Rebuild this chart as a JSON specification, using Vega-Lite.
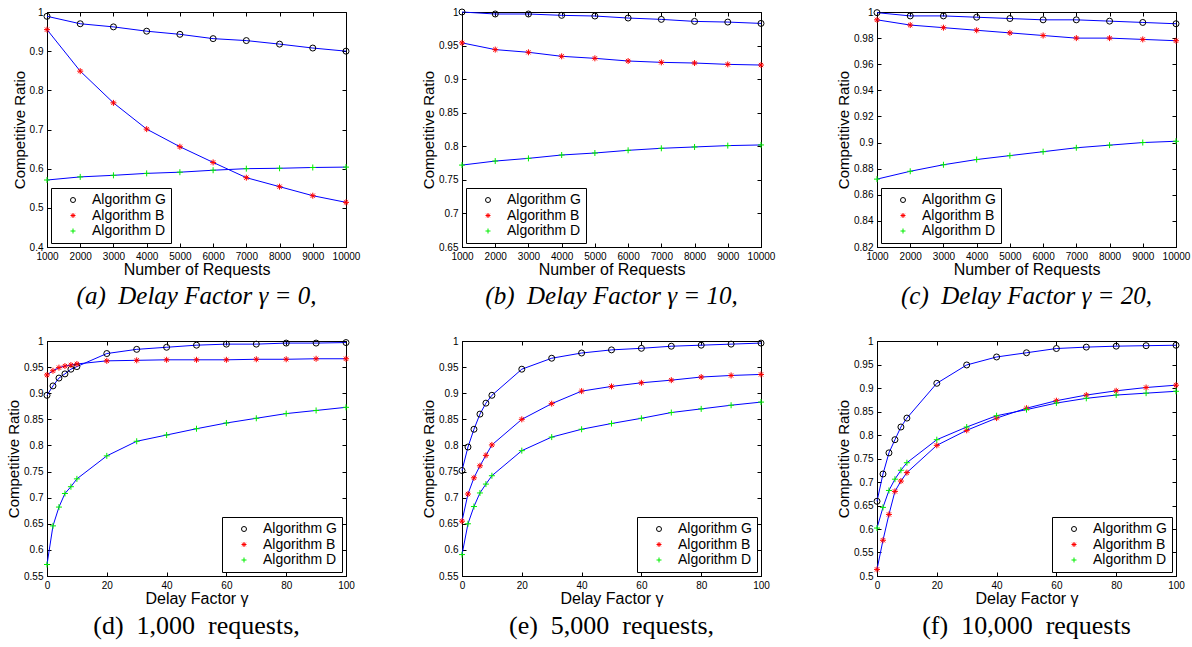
{
  "$schema": "https://vega.github.io/schema/vega-lite/v6.json",
  "background": "white",
  "padding": {"left": 6, "top": 6, "right": 0, "bottom": 0},
  "datasets": {
    "a": [
      {"x":1000,"cr":0.989,"alg":"Algorithm G"},{"x":2000,"cr":0.970,"alg":"Algorithm G"},{"x":3000,"cr":0.962,"alg":"Algorithm G"},{"x":4000,"cr":0.951,"alg":"Algorithm G"},{"x":5000,"cr":0.943,"alg":"Algorithm G"},{"x":6000,"cr":0.932,"alg":"Algorithm G"},{"x":7000,"cr":0.927,"alg":"Algorithm G"},{"x":8000,"cr":0.918,"alg":"Algorithm G"},{"x":9000,"cr":0.908,"alg":"Algorithm G"},{"x":10000,"cr":0.900,"alg":"Algorithm G"},
      {"x":1000,"cr":0.955,"alg":"Algorithm B"},{"x":2000,"cr":0.849,"alg":"Algorithm B"},{"x":3000,"cr":0.768,"alg":"Algorithm B"},{"x":4000,"cr":0.701,"alg":"Algorithm B"},{"x":5000,"cr":0.656,"alg":"Algorithm B"},{"x":6000,"cr":0.616,"alg":"Algorithm B"},{"x":7000,"cr":0.577,"alg":"Algorithm B"},{"x":8000,"cr":0.554,"alg":"Algorithm B"},{"x":9000,"cr":0.531,"alg":"Algorithm B"},{"x":10000,"cr":0.514,"alg":"Algorithm B"},
      {"x":1000,"cr":0.571,"alg":"Algorithm D"},{"x":2000,"cr":0.579,"alg":"Algorithm D"},{"x":3000,"cr":0.583,"alg":"Algorithm D"},{"x":4000,"cr":0.588,"alg":"Algorithm D"},{"x":5000,"cr":0.591,"alg":"Algorithm D"},{"x":6000,"cr":0.596,"alg":"Algorithm D"},{"x":7000,"cr":0.600,"alg":"Algorithm D"},{"x":8000,"cr":0.601,"alg":"Algorithm D"},{"x":9000,"cr":0.603,"alg":"Algorithm D"},{"x":10000,"cr":0.604,"alg":"Algorithm D"}
    ],
    "b": [
      {"x":1000,"cr":1.000,"alg":"Algorithm G"},{"x":2000,"cr":0.997,"alg":"Algorithm G"},{"x":3000,"cr":0.997,"alg":"Algorithm G"},{"x":4000,"cr":0.995,"alg":"Algorithm G"},{"x":5000,"cr":0.994,"alg":"Algorithm G"},{"x":6000,"cr":0.991,"alg":"Algorithm G"},{"x":7000,"cr":0.989,"alg":"Algorithm G"},{"x":8000,"cr":0.986,"alg":"Algorithm G"},{"x":9000,"cr":0.985,"alg":"Algorithm G"},{"x":10000,"cr":0.983,"alg":"Algorithm G"},
      {"x":1000,"cr":0.954,"alg":"Algorithm B"},{"x":2000,"cr":0.944,"alg":"Algorithm B"},{"x":3000,"cr":0.940,"alg":"Algorithm B"},{"x":4000,"cr":0.934,"alg":"Algorithm B"},{"x":5000,"cr":0.931,"alg":"Algorithm B"},{"x":6000,"cr":0.927,"alg":"Algorithm B"},{"x":7000,"cr":0.925,"alg":"Algorithm B"},{"x":8000,"cr":0.924,"alg":"Algorithm B"},{"x":9000,"cr":0.922,"alg":"Algorithm B"},{"x":10000,"cr":0.921,"alg":"Algorithm B"},
      {"x":1000,"cr":0.772,"alg":"Algorithm D"},{"x":2000,"cr":0.778,"alg":"Algorithm D"},{"x":3000,"cr":0.782,"alg":"Algorithm D"},{"x":4000,"cr":0.787,"alg":"Algorithm D"},{"x":5000,"cr":0.790,"alg":"Algorithm D"},{"x":6000,"cr":0.794,"alg":"Algorithm D"},{"x":7000,"cr":0.797,"alg":"Algorithm D"},{"x":8000,"cr":0.799,"alg":"Algorithm D"},{"x":9000,"cr":0.801,"alg":"Algorithm D"},{"x":10000,"cr":0.802,"alg":"Algorithm D"}
    ],
    "c": [
      {"x":1000,"cr":0.9995,"alg":"Algorithm G"},{"x":2000,"cr":0.997,"alg":"Algorithm G"},{"x":3000,"cr":0.997,"alg":"Algorithm G"},{"x":4000,"cr":0.996,"alg":"Algorithm G"},{"x":5000,"cr":0.995,"alg":"Algorithm G"},{"x":6000,"cr":0.994,"alg":"Algorithm G"},{"x":7000,"cr":0.994,"alg":"Algorithm G"},{"x":8000,"cr":0.993,"alg":"Algorithm G"},{"x":9000,"cr":0.992,"alg":"Algorithm G"},{"x":10000,"cr":0.991,"alg":"Algorithm G"},
      {"x":1000,"cr":0.994,"alg":"Algorithm B"},{"x":2000,"cr":0.990,"alg":"Algorithm B"},{"x":3000,"cr":0.988,"alg":"Algorithm B"},{"x":4000,"cr":0.986,"alg":"Algorithm B"},{"x":5000,"cr":0.984,"alg":"Algorithm B"},{"x":6000,"cr":0.982,"alg":"Algorithm B"},{"x":7000,"cr":0.980,"alg":"Algorithm B"},{"x":8000,"cr":0.980,"alg":"Algorithm B"},{"x":9000,"cr":0.979,"alg":"Algorithm B"},{"x":10000,"cr":0.978,"alg":"Algorithm B"},
      {"x":1000,"cr":0.872,"alg":"Algorithm D"},{"x":2000,"cr":0.878,"alg":"Algorithm D"},{"x":3000,"cr":0.883,"alg":"Algorithm D"},{"x":4000,"cr":0.887,"alg":"Algorithm D"},{"x":5000,"cr":0.890,"alg":"Algorithm D"},{"x":6000,"cr":0.893,"alg":"Algorithm D"},{"x":7000,"cr":0.896,"alg":"Algorithm D"},{"x":8000,"cr":0.898,"alg":"Algorithm D"},{"x":9000,"cr":0.900,"alg":"Algorithm D"},{"x":10000,"cr":0.901,"alg":"Algorithm D"}
    ],
    "d": [
      {"x":0,"cr":0.896,"alg":"Algorithm G"},{"x":2,"cr":0.914,"alg":"Algorithm G"},{"x":4,"cr":0.929,"alg":"Algorithm G"},{"x":6,"cr":0.937,"alg":"Algorithm G"},{"x":8,"cr":0.946,"alg":"Algorithm G"},{"x":10,"cr":0.951,"alg":"Algorithm G"},{"x":20,"cr":0.976,"alg":"Algorithm G"},{"x":30,"cr":0.984,"alg":"Algorithm G"},{"x":40,"cr":0.988,"alg":"Algorithm G"},{"x":50,"cr":0.992,"alg":"Algorithm G"},{"x":60,"cr":0.994,"alg":"Algorithm G"},{"x":70,"cr":0.994,"alg":"Algorithm G"},{"x":80,"cr":0.996,"alg":"Algorithm G"},{"x":90,"cr":0.996,"alg":"Algorithm G"},{"x":100,"cr":0.997,"alg":"Algorithm G"},
      {"x":0,"cr":0.935,"alg":"Algorithm B"},{"x":2,"cr":0.943,"alg":"Algorithm B"},{"x":4,"cr":0.949,"alg":"Algorithm B"},{"x":6,"cr":0.952,"alg":"Algorithm B"},{"x":8,"cr":0.954,"alg":"Algorithm B"},{"x":10,"cr":0.956,"alg":"Algorithm B"},{"x":20,"cr":0.962,"alg":"Algorithm B"},{"x":30,"cr":0.963,"alg":"Algorithm B"},{"x":40,"cr":0.964,"alg":"Algorithm B"},{"x":50,"cr":0.964,"alg":"Algorithm B"},{"x":60,"cr":0.964,"alg":"Algorithm B"},{"x":70,"cr":0.965,"alg":"Algorithm B"},{"x":80,"cr":0.965,"alg":"Algorithm B"},{"x":90,"cr":0.966,"alg":"Algorithm B"},{"x":100,"cr":0.966,"alg":"Algorithm B"},
      {"x":0,"cr":0.572,"alg":"Algorithm D"},{"x":2,"cr":0.646,"alg":"Algorithm D"},{"x":4,"cr":0.682,"alg":"Algorithm D"},{"x":6,"cr":0.708,"alg":"Algorithm D"},{"x":8,"cr":0.721,"alg":"Algorithm D"},{"x":10,"cr":0.736,"alg":"Algorithm D"},{"x":20,"cr":0.780,"alg":"Algorithm D"},{"x":30,"cr":0.808,"alg":"Algorithm D"},{"x":40,"cr":0.820,"alg":"Algorithm D"},{"x":50,"cr":0.832,"alg":"Algorithm D"},{"x":60,"cr":0.843,"alg":"Algorithm D"},{"x":70,"cr":0.852,"alg":"Algorithm D"},{"x":80,"cr":0.861,"alg":"Algorithm D"},{"x":90,"cr":0.867,"alg":"Algorithm D"},{"x":100,"cr":0.873,"alg":"Algorithm D"}
    ],
    "e": [
      {"x":0,"cr":0.752,"alg":"Algorithm G"},{"x":2,"cr":0.797,"alg":"Algorithm G"},{"x":4,"cr":0.831,"alg":"Algorithm G"},{"x":6,"cr":0.860,"alg":"Algorithm G"},{"x":8,"cr":0.881,"alg":"Algorithm G"},{"x":10,"cr":0.896,"alg":"Algorithm G"},{"x":20,"cr":0.946,"alg":"Algorithm G"},{"x":30,"cr":0.967,"alg":"Algorithm G"},{"x":40,"cr":0.977,"alg":"Algorithm G"},{"x":50,"cr":0.983,"alg":"Algorithm G"},{"x":60,"cr":0.986,"alg":"Algorithm G"},{"x":70,"cr":0.990,"alg":"Algorithm G"},{"x":80,"cr":0.992,"alg":"Algorithm G"},{"x":90,"cr":0.994,"alg":"Algorithm G"},{"x":100,"cr":0.996,"alg":"Algorithm G"},
      {"x":0,"cr":0.655,"alg":"Algorithm B"},{"x":2,"cr":0.707,"alg":"Algorithm B"},{"x":4,"cr":0.738,"alg":"Algorithm B"},{"x":6,"cr":0.761,"alg":"Algorithm B"},{"x":8,"cr":0.781,"alg":"Algorithm B"},{"x":10,"cr":0.801,"alg":"Algorithm B"},{"x":20,"cr":0.850,"alg":"Algorithm B"},{"x":30,"cr":0.880,"alg":"Algorithm B"},{"x":40,"cr":0.904,"alg":"Algorithm B"},{"x":50,"cr":0.913,"alg":"Algorithm B"},{"x":60,"cr":0.920,"alg":"Algorithm B"},{"x":70,"cr":0.925,"alg":"Algorithm B"},{"x":80,"cr":0.931,"alg":"Algorithm B"},{"x":90,"cr":0.934,"alg":"Algorithm B"},{"x":100,"cr":0.936,"alg":"Algorithm B"},
      {"x":0,"cr":0.591,"alg":"Algorithm D"},{"x":2,"cr":0.650,"alg":"Algorithm D"},{"x":4,"cr":0.683,"alg":"Algorithm D"},{"x":6,"cr":0.709,"alg":"Algorithm D"},{"x":8,"cr":0.726,"alg":"Algorithm D"},{"x":10,"cr":0.742,"alg":"Algorithm D"},{"x":20,"cr":0.790,"alg":"Algorithm D"},{"x":30,"cr":0.816,"alg":"Algorithm D"},{"x":40,"cr":0.831,"alg":"Algorithm D"},{"x":50,"cr":0.842,"alg":"Algorithm D"},{"x":60,"cr":0.852,"alg":"Algorithm D"},{"x":70,"cr":0.863,"alg":"Algorithm D"},{"x":80,"cr":0.870,"alg":"Algorithm D"},{"x":90,"cr":0.877,"alg":"Algorithm D"},{"x":100,"cr":0.883,"alg":"Algorithm D"}
    ],
    "f": [
      {"x":0,"cr":0.659,"alg":"Algorithm G"},{"x":2,"cr":0.717,"alg":"Algorithm G"},{"x":4,"cr":0.762,"alg":"Algorithm G"},{"x":6,"cr":0.790,"alg":"Algorithm G"},{"x":8,"cr":0.817,"alg":"Algorithm G"},{"x":10,"cr":0.836,"alg":"Algorithm G"},{"x":20,"cr":0.910,"alg":"Algorithm G"},{"x":30,"cr":0.949,"alg":"Algorithm G"},{"x":40,"cr":0.966,"alg":"Algorithm G"},{"x":50,"cr":0.975,"alg":"Algorithm G"},{"x":60,"cr":0.984,"alg":"Algorithm G"},{"x":70,"cr":0.987,"alg":"Algorithm G"},{"x":80,"cr":0.989,"alg":"Algorithm G"},{"x":90,"cr":0.990,"alg":"Algorithm G"},{"x":100,"cr":0.991,"alg":"Algorithm G"},
      {"x":0,"cr":0.514,"alg":"Algorithm B"},{"x":2,"cr":0.576,"alg":"Algorithm B"},{"x":4,"cr":0.631,"alg":"Algorithm B"},{"x":6,"cr":0.680,"alg":"Algorithm B"},{"x":8,"cr":0.702,"alg":"Algorithm B"},{"x":10,"cr":0.720,"alg":"Algorithm B"},{"x":20,"cr":0.778,"alg":"Algorithm B"},{"x":30,"cr":0.810,"alg":"Algorithm B"},{"x":40,"cr":0.836,"alg":"Algorithm B"},{"x":50,"cr":0.857,"alg":"Algorithm B"},{"x":60,"cr":0.873,"alg":"Algorithm B"},{"x":70,"cr":0.885,"alg":"Algorithm B"},{"x":80,"cr":0.894,"alg":"Algorithm B"},{"x":90,"cr":0.901,"alg":"Algorithm B"},{"x":100,"cr":0.906,"alg":"Algorithm B"},
      {"x":0,"cr":0.602,"alg":"Algorithm D"},{"x":2,"cr":0.646,"alg":"Algorithm D"},{"x":4,"cr":0.682,"alg":"Algorithm D"},{"x":6,"cr":0.706,"alg":"Algorithm D"},{"x":8,"cr":0.725,"alg":"Algorithm D"},{"x":10,"cr":0.741,"alg":"Algorithm D"},{"x":20,"cr":0.790,"alg":"Algorithm D"},{"x":30,"cr":0.817,"alg":"Algorithm D"},{"x":40,"cr":0.841,"alg":"Algorithm D"},{"x":50,"cr":0.854,"alg":"Algorithm D"},{"x":60,"cr":0.868,"alg":"Algorithm D"},{"x":70,"cr":0.878,"alg":"Algorithm D"},{"x":80,"cr":0.885,"alg":"Algorithm D"},{"x":90,"cr":0.889,"alg":"Algorithm D"},{"x":100,"cr":0.893,"alg":"Algorithm D"}
    ]
  },
  "spacing": 25,
  "vconcat": [
    {
      "bounds": "flush",
      "spacing": 116,
      "resolve": {"scale": {"color": "independent", "shape": "independent"}, "legend": {"color": "independent", "shape": "independent"}},
      "hconcat": [
        {
          "data": {"name": "a"},
          "width": 299, "height": 235,
          "title": {"text": "(a)\u2002Delay Factor γ = 0,", "fontStyle": "italic"},
          "resolve": {"axis": {"x": "independent", "y": "independent"}},
          "layer": [
            {
              "encoding": {
                "x": {"field": "x", "type": "quantitative", "scale": {"domain": [1000, 10000], "nice": false, "zero": false}, "axis": {"values": [1000,2000,3000,4000,5000,6000,7000,8000,9000,10000], "format": "d", "title": "Number of Requests"}},
                "y": {"field": "cr", "type": "quantitative", "scale": {"domain": [0.4, 1], "nice": false, "zero": false}, "axis": {"values": [0.4,0.5,0.6,0.7,0.8,0.9,1], "format": "~g", "title": "Competitive Ratio"}}
              },
              "layer": [
                {"mark": {"type": "line", "color": "#0000ff", "strokeWidth": 1}, "encoding": {"detail": {"field": "alg"}}},
                {"mark": {"type": "point", "filled": false, "strokeWidth": 1, "opacity": 1, "size": 36},
                 "encoding": {
                   "shape": {"field": "alg", "type": "nominal", "scale": {"domain": ["Algorithm G","Algorithm B","Algorithm D"], "range": ["circle", "M-1,0L1,0M0,-1L0,1M-0.7,-0.7L0.7,0.7M-0.7,0.7L0.7,-0.7", "M-1,0L1,0M0,-1L0,1"]}, "legend": {"title": null, "orient": "bottom-left"}},
                   "color": {"field": "alg", "type": "nominal", "scale": {"domain": ["Algorithm G","Algorithm B","Algorithm D"], "range": ["#000000", "#ff0000", "#00ee00"]}, "legend": {"title": null, "orient": "bottom-left"}}
                 }}
              ]
            },
            {
              "mark": {"type": "point", "opacity": 0},
              "encoding": {
                "x": {"field": "x", "type": "quantitative", "scale": {"domain": [1000, 10000], "nice": false, "zero": false}, "axis": {"orient": "top", "values": [1000,2000,3000,4000,5000,6000,7000,8000,9000,10000], "labels": false, "title": null, "domain": false}},
                "y": {"field": "cr", "type": "quantitative", "scale": {"domain": [0.4, 1], "nice": false, "zero": false}, "axis": {"orient": "right", "values": [0.4,0.5,0.6,0.7,0.8,0.9,1], "labels": false, "title": null, "domain": false}}
              }
            }
          ]
        },
        {
          "data": {"name": "b"},
          "width": 299, "height": 235,
          "title": {"text": "(b)\u2002Delay Factor γ = 10,", "fontStyle": "italic"},
          "resolve": {"axis": {"x": "independent", "y": "independent"}},
          "layer": [
            {
              "encoding": {
                "x": {"field": "x", "type": "quantitative", "scale": {"domain": [1000, 10000], "nice": false, "zero": false}, "axis": {"values": [1000,2000,3000,4000,5000,6000,7000,8000,9000,10000], "format": "d", "title": "Number of Requests"}},
                "y": {"field": "cr", "type": "quantitative", "scale": {"domain": [0.65, 1], "nice": false, "zero": false}, "axis": {"values": [0.65,0.7,0.75,0.8,0.85,0.9,0.95,1], "format": "~g", "title": "Competitive Ratio"}}
              },
              "layer": [
                {"mark": {"type": "line", "color": "#0000ff", "strokeWidth": 1}, "encoding": {"detail": {"field": "alg"}}},
                {"mark": {"type": "point", "filled": false, "strokeWidth": 1, "opacity": 1, "size": 36},
                 "encoding": {
                   "shape": {"field": "alg", "type": "nominal", "scale": {"domain": ["Algorithm G","Algorithm B","Algorithm D"], "range": ["circle", "M-1,0L1,0M0,-1L0,1M-0.7,-0.7L0.7,0.7M-0.7,0.7L0.7,-0.7", "M-1,0L1,0M0,-1L0,1"]}, "legend": {"title": null, "orient": "bottom-left"}},
                   "color": {"field": "alg", "type": "nominal", "scale": {"domain": ["Algorithm G","Algorithm B","Algorithm D"], "range": ["#000000", "#ff0000", "#00ee00"]}, "legend": {"title": null, "orient": "bottom-left"}}
                 }}
              ]
            },
            {
              "mark": {"type": "point", "opacity": 0},
              "encoding": {
                "x": {"field": "x", "type": "quantitative", "scale": {"domain": [1000, 10000], "nice": false, "zero": false}, "axis": {"orient": "top", "values": [1000,2000,3000,4000,5000,6000,7000,8000,9000,10000], "labels": false, "title": null, "domain": false}},
                "y": {"field": "cr", "type": "quantitative", "scale": {"domain": [0.65, 1], "nice": false, "zero": false}, "axis": {"orient": "right", "values": [0.65,0.7,0.75,0.8,0.85,0.9,0.95,1], "labels": false, "title": null, "domain": false}}
              }
            }
          ]
        },
        {
          "data": {"name": "c"},
          "width": 299, "height": 235,
          "title": {"text": "(c)\u2002Delay Factor γ = 20,", "fontStyle": "italic"},
          "resolve": {"axis": {"x": "independent", "y": "independent"}},
          "layer": [
            {
              "encoding": {
                "x": {"field": "x", "type": "quantitative", "scale": {"domain": [1000, 10000], "nice": false, "zero": false}, "axis": {"values": [1000,2000,3000,4000,5000,6000,7000,8000,9000,10000], "format": "d", "title": "Number of Requests"}},
                "y": {"field": "cr", "type": "quantitative", "scale": {"domain": [0.82, 1], "nice": false, "zero": false}, "axis": {"values": [0.82,0.84,0.86,0.88,0.9,0.92,0.94,0.96,0.98,1], "format": "~g", "title": "Competitive Ratio"}}
              },
              "layer": [
                {"mark": {"type": "line", "color": "#0000ff", "strokeWidth": 1}, "encoding": {"detail": {"field": "alg"}}},
                {"mark": {"type": "point", "filled": false, "strokeWidth": 1, "opacity": 1, "size": 36},
                 "encoding": {
                   "shape": {"field": "alg", "type": "nominal", "scale": {"domain": ["Algorithm G","Algorithm B","Algorithm D"], "range": ["circle", "M-1,0L1,0M0,-1L0,1M-0.7,-0.7L0.7,0.7M-0.7,0.7L0.7,-0.7", "M-1,0L1,0M0,-1L0,1"]}, "legend": {"title": null, "orient": "bottom-left"}},
                   "color": {"field": "alg", "type": "nominal", "scale": {"domain": ["Algorithm G","Algorithm B","Algorithm D"], "range": ["#000000", "#ff0000", "#00ee00"]}, "legend": {"title": null, "orient": "bottom-left"}}
                 }}
              ]
            },
            {
              "mark": {"type": "point", "opacity": 0},
              "encoding": {
                "x": {"field": "x", "type": "quantitative", "scale": {"domain": [1000, 10000], "nice": false, "zero": false}, "axis": {"orient": "top", "values": [1000,2000,3000,4000,5000,6000,7000,8000,9000,10000], "labels": false, "title": null, "domain": false}},
                "y": {"field": "cr", "type": "quantitative", "scale": {"domain": [0.82, 1], "nice": false, "zero": false}, "axis": {"orient": "right", "values": [0.82,0.84,0.86,0.88,0.9,0.92,0.94,0.96,0.98,1], "labels": false, "title": null, "domain": false}}
              }
            }
          ]
        }
      ]
    },
    {
      "bounds": "flush",
      "spacing": 116,
      "resolve": {"scale": {"color": "independent", "shape": "independent"}, "legend": {"color": "independent", "shape": "independent"}},
      "hconcat": [
        {
          "data": {"name": "d"},
          "width": 299, "height": 235,
          "title": {"text": "(d)\u20021,000\u2002requests,", "fontSize": 26},
          "resolve": {"axis": {"x": "independent", "y": "independent"}},
          "layer": [
            {
              "encoding": {
                "x": {"field": "x", "type": "quantitative", "scale": {"domain": [0, 100], "nice": false}, "axis": {"values": [0,20,40,60,80,100], "title": "Delay Factor γ"}},
                "y": {"field": "cr", "type": "quantitative", "scale": {"domain": [0.55, 1], "nice": false, "zero": false}, "axis": {"values": [0.55,0.6,0.65,0.7,0.75,0.8,0.85,0.9,0.95,1], "format": "~g", "title": "Competitive Ratio"}}
              },
              "layer": [
                {"mark": {"type": "line", "color": "#0000ff", "strokeWidth": 1}, "encoding": {"detail": {"field": "alg"}}},
                {"mark": {"type": "point", "filled": false, "strokeWidth": 1, "opacity": 1, "size": 36},
                 "encoding": {
                   "shape": {"field": "alg", "type": "nominal", "scale": {"domain": ["Algorithm G","Algorithm B","Algorithm D"], "range": ["circle", "M-1,0L1,0M0,-1L0,1M-0.7,-0.7L0.7,0.7M-0.7,0.7L0.7,-0.7", "M-1,0L1,0M0,-1L0,1"]}, "legend": {"title": null, "orient": "bottom-right"}},
                   "color": {"field": "alg", "type": "nominal", "scale": {"domain": ["Algorithm G","Algorithm B","Algorithm D"], "range": ["#000000", "#ff0000", "#00ee00"]}, "legend": {"title": null, "orient": "bottom-right"}}
                 }}
              ]
            },
            {
              "mark": {"type": "point", "opacity": 0},
              "encoding": {
                "x": {"field": "x", "type": "quantitative", "scale": {"domain": [0, 100], "nice": false}, "axis": {"orient": "top", "values": [0,20,40,60,80,100], "labels": false, "title": null, "domain": false}},
                "y": {"field": "cr", "type": "quantitative", "scale": {"domain": [0.55, 1], "nice": false, "zero": false}, "axis": {"orient": "right", "values": [0.55,0.6,0.65,0.7,0.75,0.8,0.85,0.9,0.95,1], "labels": false, "title": null, "domain": false}}
              }
            }
          ]
        },
        {
          "data": {"name": "e"},
          "width": 299, "height": 235,
          "title": {"text": "(e)\u20025,000\u2002requests,", "fontSize": 26},
          "resolve": {"axis": {"x": "independent", "y": "independent"}},
          "layer": [
            {
              "encoding": {
                "x": {"field": "x", "type": "quantitative", "scale": {"domain": [0, 100], "nice": false}, "axis": {"values": [0,20,40,60,80,100], "title": "Delay Factor γ"}},
                "y": {"field": "cr", "type": "quantitative", "scale": {"domain": [0.55, 1], "nice": false, "zero": false}, "axis": {"values": [0.55,0.6,0.65,0.7,0.75,0.8,0.85,0.9,0.95,1], "format": "~g", "title": "Competitive Ratio"}}
              },
              "layer": [
                {"mark": {"type": "line", "color": "#0000ff", "strokeWidth": 1}, "encoding": {"detail": {"field": "alg"}}},
                {"mark": {"type": "point", "filled": false, "strokeWidth": 1, "opacity": 1, "size": 36},
                 "encoding": {
                   "shape": {"field": "alg", "type": "nominal", "scale": {"domain": ["Algorithm G","Algorithm B","Algorithm D"], "range": ["circle", "M-1,0L1,0M0,-1L0,1M-0.7,-0.7L0.7,0.7M-0.7,0.7L0.7,-0.7", "M-1,0L1,0M0,-1L0,1"]}, "legend": {"title": null, "orient": "bottom-right"}},
                   "color": {"field": "alg", "type": "nominal", "scale": {"domain": ["Algorithm G","Algorithm B","Algorithm D"], "range": ["#000000", "#ff0000", "#00ee00"]}, "legend": {"title": null, "orient": "bottom-right"}}
                 }}
              ]
            },
            {
              "mark": {"type": "point", "opacity": 0},
              "encoding": {
                "x": {"field": "x", "type": "quantitative", "scale": {"domain": [0, 100], "nice": false}, "axis": {"orient": "top", "values": [0,20,40,60,80,100], "labels": false, "title": null, "domain": false}},
                "y": {"field": "cr", "type": "quantitative", "scale": {"domain": [0.55, 1], "nice": false, "zero": false}, "axis": {"orient": "right", "values": [0.55,0.6,0.65,0.7,0.75,0.8,0.85,0.9,0.95,1], "labels": false, "title": null, "domain": false}}
              }
            }
          ]
        },
        {
          "data": {"name": "f"},
          "width": 299, "height": 235,
          "title": {"text": "(f)\u200210,000\u2002requests", "fontSize": 26},
          "resolve": {"axis": {"x": "independent", "y": "independent"}},
          "layer": [
            {
              "encoding": {
                "x": {"field": "x", "type": "quantitative", "scale": {"domain": [0, 100], "nice": false}, "axis": {"values": [0,20,40,60,80,100], "title": "Delay Factor γ"}},
                "y": {"field": "cr", "type": "quantitative", "scale": {"domain": [0.5, 1], "nice": false, "zero": false}, "axis": {"values": [0.5,0.55,0.6,0.65,0.7,0.75,0.8,0.85,0.9,0.95,1], "format": "~g", "title": "Competitive Ratio"}}
              },
              "layer": [
                {"mark": {"type": "line", "color": "#0000ff", "strokeWidth": 1}, "encoding": {"detail": {"field": "alg"}}},
                {"mark": {"type": "point", "filled": false, "strokeWidth": 1, "opacity": 1, "size": 36},
                 "encoding": {
                   "shape": {"field": "alg", "type": "nominal", "scale": {"domain": ["Algorithm G","Algorithm B","Algorithm D"], "range": ["circle", "M-1,0L1,0M0,-1L0,1M-0.7,-0.7L0.7,0.7M-0.7,0.7L0.7,-0.7", "M-1,0L1,0M0,-1L0,1"]}, "legend": {"title": null, "orient": "bottom-right"}},
                   "color": {"field": "alg", "type": "nominal", "scale": {"domain": ["Algorithm G","Algorithm B","Algorithm D"], "range": ["#000000", "#ff0000", "#00ee00"]}, "legend": {"title": null, "orient": "bottom-right"}}
                 }}
              ]
            },
            {
              "mark": {"type": "point", "opacity": 0},
              "encoding": {
                "x": {"field": "x", "type": "quantitative", "scale": {"domain": [0, 100], "nice": false}, "axis": {"orient": "top", "values": [0,20,40,60,80,100], "labels": false, "title": null, "domain": false}},
                "y": {"field": "cr", "type": "quantitative", "scale": {"domain": [0.5, 1], "nice": false, "zero": false}, "axis": {"orient": "right", "values": [0.5,0.55,0.6,0.65,0.7,0.75,0.8,0.85,0.9,0.95,1], "labels": false, "title": null, "domain": false}}
              }
            }
          ]
        }
      ]
    }
  ],
  "config": {
    "view": {"stroke": "#000000", "strokeWidth": 1},
    "axis": {
      "grid": false,
      "domainColor": "#000000",
      "tickColor": "#000000",
      "tickSize": -4,
      "labelPadding": 8,
      "labelOverlap": false,
      "labelFlush": false,
      "labelFont": "Liberation Sans",
      "labelFontSize": 10,
      "labelColor": "#000000",
      "titleFont": "Liberation Sans",
      "titleFontWeight": "normal",
      "titleColor": "#000000"
    },
    "axisX": {"titlePadding": 0, "titleFontSize": 16},
    "axisY": {"titlePadding": 2, "titleFontSize": 15},
    "legend": {
      "offset": 4,
      "strokeColor": "#000000",
      "fillColor": "#ffffff",
      "padding": 5,
      "labelFont": "Liberation Sans",
      "labelFontSize": 14,
      "labelColor": "#000000",
      "labelOffset": 12,
      "symbolOffset": 10,
      "rowPadding": 1.5,
      "symbolSize": 25,
      "symbolStrokeWidth": 1
    },
    "title": {
      "orient": "bottom",
      "anchor": "middle",
      "font": "Liberation Serif",
      "fontSize": 25,
      "fontWeight": "normal",
      "color": "#000000",
      "offset": 7
    }
  }
}
